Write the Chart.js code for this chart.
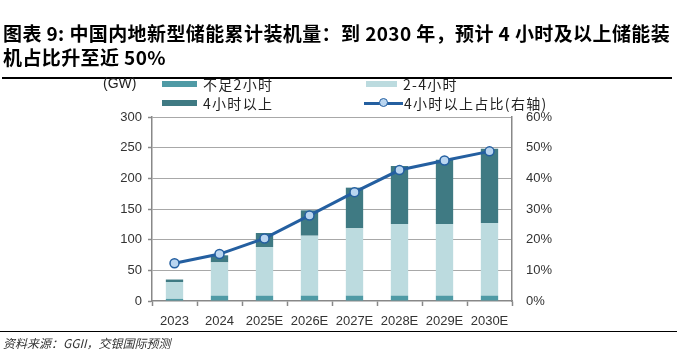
<!DOCTYPE html>
<html>
<head>
<meta charset="utf-8">
<script src="https://cdn.jsdelivr.net/npm/chart.js@4"></script>
<style>
  html,body{margin:0;padding:0;background:#fff;}
  #wrap{position:relative;width:677px;height:356px;overflow:hidden;background:#fff;}
  canvas{position:absolute;left:0;top:0;}
  .t{position:absolute;white-space:nowrap;color:#000;}
  #title1,#title2{font-family:"Noto Sans CJK SC","Noto Sans",sans-serif;font-weight:bold;font-size:19px;left:3px;letter-spacing:0.4px;}
  #title1{top:19px;}
  #title2{top:43px;}
  #rule1{position:absolute;left:2px;width:670px;top:77px;height:2px;background:#000;}
  #rule2{position:absolute;left:0px;width:677px;top:331px;height:1px;background:#000;}
  .lg{font-family:"Noto Sans CJK SC",sans-serif;font-size:14px;color:#222;letter-spacing:1.3px;}
  .sw{position:absolute;height:6px;width:35px;}
  #src{font-family:"Noto Sans CJK SC",sans-serif;font-size:12px;font-style:italic;color:#333;left:3px;top:334px;}
</style>
</head>
<body>
<div id="wrap">
  <canvas id="c" width="677" height="356"></canvas>
  <div class="t" id="title1">图表 9: 中国内地新型储能累计装机量：到 2030 年，预计 4 小时及以上储能装</div>
  <div class="t" id="title2">机占比升至近 50%</div>
  <div id="rule1"></div>
  <div class="t lg" style="left:103px;top:75px;font-family:'Liberation Sans',sans-serif;letter-spacing:0;">(GW)</div>
  <div class="sw" style="left:162px;top:81px;background:#4f9aa5;"></div>
  <div class="t lg" style="left:203px;top:74px;">不足2小时</div>
  <div class="sw" style="left:366px;top:81px;width:31px;background:#bcdbdf;"></div>
  <div class="t lg" style="left:403px;top:74px;">2-4小时</div>
  <div class="sw" style="left:162px;top:100px;background:#3f7a83;"></div>
  <div class="t lg" style="left:203px;top:93px;">4小时以上</div>
  <div style="position:absolute;left:364px;top:101.5px;width:39px;height:3px;background:#245fa0;"></div>
  <div style="position:absolute;left:379px;top:98px;width:7px;height:7px;border-radius:50%;background:#b9d5f0;border:1.5px solid #245fa0;"></div>
  <div class="t lg" style="left:404px;top:93px;">4小时以上占比(右轴)</div>
  <div id="rule2"></div>
  <div class="t" id="src">资料来源：GGII，交银国际预测</div>
</div>
<script>
const categories = ["2023","2024","2025E","2026E","2027E","2028E","2029E","2030E"];
const under2h = [3.5, 8.7, 8.7, 8.7, 8.7, 8.7, 8.7, 8.7];
const h2to4 = [27.5, 54.3, 79.3, 97.8, 109.8, 116.8, 116.8, 118.5];
const over4h = [4.0, 11.5, 22.9, 41.3, 66.3, 94.6, 104.9, 121.2];
const over4hShare = [12.3, 15.3, 20.4, 27.9, 35.5, 42.7, 45.8, 48.8];
const leftTicks = [0, 50, 100, 150, 200, 250, 300];
const rightTicks = [0, 10, 20, 30, 40, 50, 60];

const tickFont = {family: "'Liberation Sans', sans-serif", size: 13};
const barOpts = {barPercentage: 0.385, categoryPercentage: 1.0, yAxisID: 'y', order: 1, stack: 's'};

new Chart(document.getElementById('c'), {
  type: 'bar',
  data: {
    labels: categories,
    datasets: [
      Object.assign({label: '不足2小时', data: under2h, backgroundColor: '#4f9aa5'}, barOpts),
      Object.assign({label: '2-4小时', data: h2to4, backgroundColor: '#bcdbdf'}, barOpts),
      Object.assign({label: '4小时以上', data: over4h, backgroundColor: '#3f7a83'}, barOpts),
      {
        type: 'line', label: '4小时以上占比(右轴)', data: over4hShare, yAxisID: 'y2', order: 0,
        borderColor: '#245fa0', borderWidth: 3, backgroundColor: '#b9d5f0',
        pointRadius: 4.5, pointBorderWidth: 1.5, pointBorderColor: '#245fa0', pointBackgroundColor: '#b9d5f0',
        tension: 0, fill: false
      }
    ]
  },
  options: {
    responsive: false, animation: false, devicePixelRatio: 1,
    layout: {padding: {top: 117, left: 0, right: 0, bottom: 0}},
    plugins: {legend: {display: false}, title: {display: false}, tooltip: {enabled: false}},
    scales: {
      x: {
        stacked: true, offset: true,
        afterFit: s => { s.height = 55; },
        grid: {drawOnChartArea: false, drawTicks: true, tickLength: 5, tickColor: '#888', tickWidth: 1.5},
        border: {display: true, color: '#888', width: 1.5},
        ticks: {font: tickFont, color: '#333', padding: 8, maxRotation: 0}
      },
      y: {
        stacked: true, position: 'left', min: 0, max: 300,
        afterFit: s => { s.width = 152; },
        afterBuildTicks: s => { s.ticks = leftTicks.map(v => ({value: v})); },
        grid: {
          color: ctx => (ctx.tick && ctx.tick.value === 0) ? 'rgba(0,0,0,0)' : '#a8a8a8',
          lineWidth: 1, borderDash: [1.5, 2.5], tickColor: '#888', tickBorderDash: [], tickLength: 4, tickWidth: 1.5
        },
        border: {display: true, color: '#888', width: 1.5},
        ticks: {font: tickFont, color: '#333', padding: 6}
      },
      y2: {
        position: 'right', min: 0, max: 60,
        afterFit: s => { s.width = 165; },
        afterBuildTicks: s => { s.ticks = rightTicks.map(v => ({value: v})); },
        grid: {drawOnChartArea: false, drawTicks: false},
        border: {display: true, color: '#888', width: 1.5},
        ticks: {font: tickFont, color: '#333', padding: 14, callback: v => v + '%'}
      }
    }
  }
});
</script>
</body>
</html>
